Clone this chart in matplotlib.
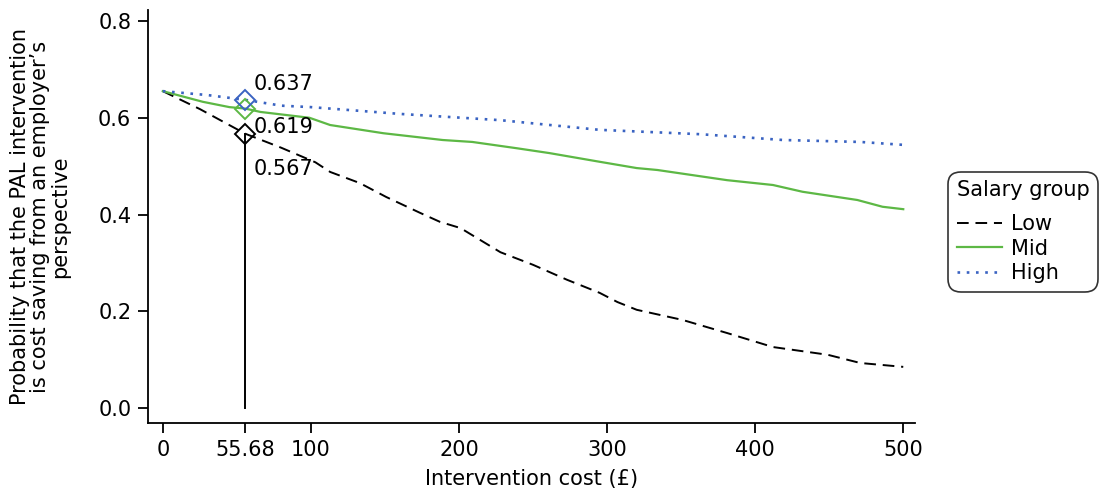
import matplotlib
matplotlib.use("Agg")
import matplotlib.pyplot as plt

# Intervention cost (GBP) and probability of cost saving per salary group
low_x = [0, 25, 55.68, 80, 103, 113, 133, 151, 174, 187, 201, 228, 250, 273, 295, 307, 320, 351, 381, 412, 449, 471, 500]
low_y = [0.655, 0.618, 0.567, 0.538, 0.508, 0.488, 0.465, 0.436, 0.403, 0.385, 0.372, 0.322, 0.296, 0.265, 0.238, 0.219, 0.203, 0.182, 0.155, 0.126, 0.110, 0.093, 0.085]

mid_x = [0, 27, 45, 55.68, 66, 99, 113, 149, 189, 209, 239, 261, 295, 320, 334, 381, 412, 432, 469, 486, 500]
mid_y = [0.655, 0.633, 0.622, 0.619, 0.612, 0.600, 0.585, 0.568, 0.554, 0.550, 0.537, 0.527, 0.509, 0.496, 0.492, 0.471, 0.461, 0.447, 0.430, 0.416, 0.411]

high_x = [0, 30, 55.68, 80, 100, 160, 228, 295, 363, 419, 471, 500]
high_y = [0.655, 0.647, 0.637, 0.625, 0.622, 0.608, 0.595, 0.575, 0.566, 0.554, 0.550, 0.544]

cost_point = 55.68
point_values = {"Low": 0.567, "Mid": 0.619, "High": 0.637}

x_ticks = [0, 55.68, 100, 200, 300, 400, 500]
x_tick_labels = ["0", "55.68", "100", "200", "300", "400", "500"]
y_ticks = [0.0, 0.2, 0.4, 0.6, 0.8]

plt.rcParams["font.family"] = "DejaVu Sans"
plt.rcParams["font.size"] = 15

fig = plt.figure(figsize=(11.02, 4.95), dpi=100)
ax = fig.add_axes([0.1343, 0.1455, 0.8304 - 0.1343, 0.980 - 0.1455])

green = "#5db845"
blue = "#3a63c2"

ax.plot(low_x, low_y, color="black", linestyle=(0, (6, 3.5)), linewidth=1.4, label="Low")
ax.plot(mid_x, mid_y, color=green, linestyle="-", linewidth=1.6, label="Mid")
ax.plot(high_x, high_y, color=blue, linestyle=(0, (1, 2.5)), linewidth=1.9, label="High")

# vertical reference line at the actual intervention cost
ax.plot([cost_point, cost_point], [0, point_values["Low"]], color="black", linewidth=1.4)

for name, col in [("Low", "black"), ("Mid", green), ("High", blue)]:
    ax.plot(cost_point, point_values[name], marker="D", markersize=10,
            markerfacecolor="none", markeredgecolor=col, markeredgewidth=1.4)

ax.annotate("0.637", (cost_point, point_values["High"]), xytext=(6, 4),
            textcoords="offset points", ha="left", va="bottom")
ax.annotate("0.619", (cost_point, point_values["Mid"]), xytext=(6, -6),
            textcoords="offset points", ha="left", va="top")
ax.annotate("0.567", (cost_point, point_values["Low"]), xytext=(6, -18),
            textcoords="offset points", ha="left", va="top")

ax.set_xlim(-10, 508)
ax.set_ylim(-0.031, 0.823)
ax.set_xticks(x_ticks)
ax.set_xticklabels(x_tick_labels)
ax.set_yticks(y_ticks)
ax.set_yticklabels(["%.1f" % v for v in y_ticks])

for s in ["top", "right"]:
    ax.spines[s].set_visible(False)
for s in ["left", "bottom"]:
    ax.spines[s].set_linewidth(1.3)
ax.tick_params(direction="out", length=7, width=1.3, pad=5)

ax.set_xlabel("Intervention cost (£)", labelpad=7)
ax.set_ylabel("Probability that the PAL intervention\nis cost saving from an employer\u2019s\nperspective",
              labelpad=20, linespacing=1.0)

leg = ax.legend(title="Salary group", loc="center left", bbox_to_anchor=(0.851, 0.532),
                bbox_transform=fig.transFigure, frameon=True, fancybox=True,
                handlelength=2.2, handletextpad=0.4, labelspacing=0.22, borderpad=0.4,
                title_fontsize=15, fontsize=15, alignment="left")
leg._legend_box.sep = 10
leg.get_frame().set_edgecolor("black")
leg.get_frame().set_linewidth(1.2)
leg.get_frame().set_boxstyle("round,pad=0.0,rounding_size=0.6")

fig.savefig("out.png", dpi=100)
